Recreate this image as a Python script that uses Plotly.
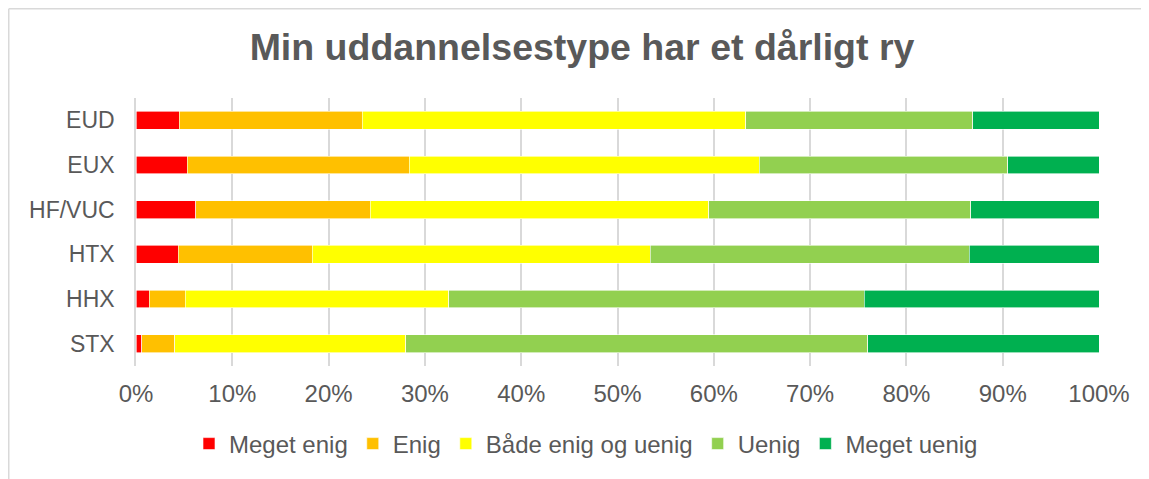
import plotly.graph_objects as go

categories = ["EUD", "EUX", "HF/VUC", "HTX", "HHX", "STX"]
series_names = ["Meget enig", "Enig", "Både enig og uenig", "Uenig", "Meget uenig"]
meget_enig = [4.5, 5.3, 6.2, 4.4, 1.4, 0.6]
enig = [19.0, 23.1, 18.1, 13.9, 3.7, 3.4]
baade = [39.8, 36.3, 35.2, 35.1, 27.4, 24.0]
uenig = [23.6, 25.8, 27.2, 33.1, 43.1, 48.0]
meget_uenig = [13.1, 9.5, 13.3, 13.5, 24.4, 24.0]
colors = ["#FF0000", "#FFC000", "#FFFF00", "#92D050", "#00B050"]
x_ticks = list(range(0, 101, 10))
x_tick_labels = [f"{v}%" for v in x_ticks]

series_values = [meget_enig, enig, baade, uenig, meget_uenig]

fig = go.Figure()
for name, vals, col in zip(series_names, series_values, colors):
    fig.add_trace(go.Bar(
        y=categories, x=vals, name=name, orientation="h",
        marker=dict(color=col, line=dict(color="white", width=0.6)),
    ))

# page has an 8px body margin; work in page coordinates and convert
OFF = 8
W, H = 1149 - OFF, 479 - OFF
L, T = 136 - OFF, 98 - OFF
R = W - (1099 - OFF)
B = H - (366 - OFF)
pw, ph = W - L - R, H - T - B

def px_x(x):
    return (x - OFF - L) / pw

def px_y(y):
    return (H - B - (y - OFF)) / ph

fig.update_layout(
    width=W, height=H,
    barmode="stack", bargap=0.6,
    margin=dict(l=L, r=R, t=T, b=B),
    paper_bgcolor="white", plot_bgcolor="white",
    font=dict(family="Liberation Sans, Arial", color="#595959", size=23),
    title=dict(text="<b>Min uddannelsestype har et dårligt ry</b>",
               x=px_x(582), xref="paper", xanchor="center",
               y=1 - (47 - OFF) / H, yanchor="middle",
               font=dict(size=37.5, color="#595959", family="Liberation Sans, Arial")),
    xaxis=dict(range=[0, 100], tickvals=x_ticks, ticktext=x_tick_labels,
               showgrid=True, gridcolor="#D9D9D9", gridwidth=1.5,
               zeroline=False, showline=False, ticks="",
               ticklabelstandoff=11,
               tickfont=dict(size=24, color="#595959")),
    yaxis=dict(autorange="reversed", showgrid=False, zeroline=False,
               showline=True, linecolor="#D9D9D9", linewidth=1.5,
               ticks="", ticklabelstandoff=15,
               tickfont=dict(size=23, color="#595959")),
    legend=dict(orientation="h", x=px_x(586), xanchor="center",
                y=px_y(444), yanchor="middle", itemwidth=30,
                traceorder="normal",
                font=dict(size=24, color="#595959")),
    showlegend=True,
)

# outer chart frame (light gray left and top edges)
fig.add_shape(type="line", xref="paper", yref="paper",
              x0=px_x(OFF + 0.75), x1=px_x(OFF + 0.75), y0=px_y(OFF + 0.75), y1=px_y(490),
              line=dict(color="#D9D9D9", width=1.5))
fig.add_shape(type="line", xref="paper", yref="paper",
              x0=px_x(OFF + 0.75), x1=px_x(1160), y0=px_y(OFF + 0.75), y1=px_y(OFF + 0.75),
              line=dict(color="#D9D9D9", width=1.5))

fig.write_html("out.html")
